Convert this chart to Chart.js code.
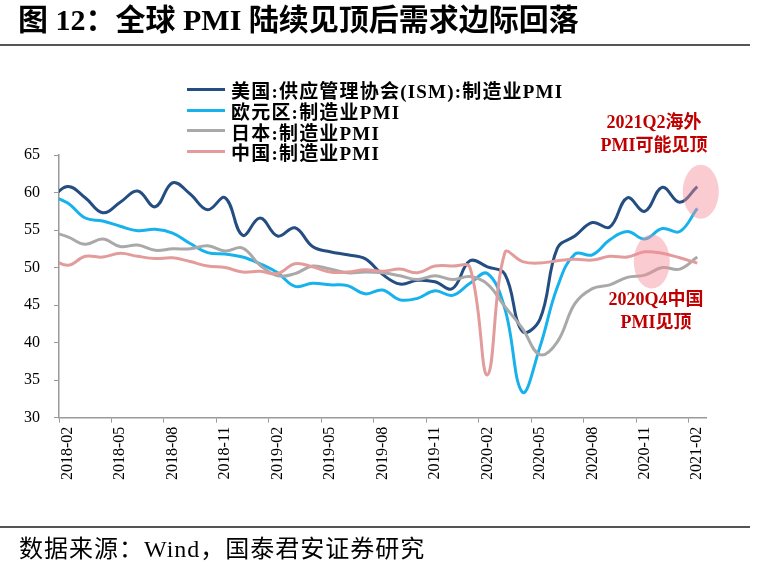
<!DOCTYPE html>
<html><head><meta charset="utf-8">
<script src="https://cdn.jsdelivr.net/npm/chart.js@4/dist/chart.umd.min.js"></script>
<style>
html,body{margin:0;padding:0;}
body{width:758px;height:572px;background:#fff;position:relative;overflow:hidden;font-family:"Liberation Serif","Noto Sans CJK SC",serif;color:#000;}
#title{position:absolute;left:18px;top:1px;font-size:30px;font-weight:bold;white-space:nowrap;line-height:38px;}
.rule{position:absolute;left:0;width:750px;background:#555;}
#src{position:absolute;left:19px;top:535px;font-size:24px;letter-spacing:1px;white-space:nowrap;line-height:28px;}
#wrap{position:absolute;left:0;top:0;width:758px;height:572px;}
#legend{position:absolute;left:187px;top:79px;font-size:19px;letter-spacing:1.2px;font-weight:bold;white-space:nowrap;}
.li{display:flex;align-items:center;height:20.8px;}
.sw{width:38px;height:3px;margin-right:6px;}
.note{position:absolute;color:#c00000;font-weight:bold;font-size:18px;text-align:center;line-height:23px;white-space:nowrap;}
</style></head>
<body>
<div id="wrap"><canvas id="c" width="758" height="572"></canvas></div>
<div id="title">图 12：全球 PMI 陆续见顶后需求边际回落</div>
<div class="rule" style="top:44px;height:2px;"></div>
<div class="rule" style="top:526px;height:2px;"></div>
<div id="src">数据来源：Wind，国泰君安证券研究</div>
<div id="legend"></div>
<div class="note" style="left:594px;top:111px;width:120px;">2021Q2海外<br>PMI可能见顶</div>
<div class="note" style="left:596px;top:288px;width:120px;">2020Q4中国<br>PMI见顶</div>
<script>
const months = ["2018-01","2018-02","2018-03","2018-04","2018-05","2018-06","2018-07","2018-08","2018-09","2018-10","2018-11","2018-12",
"2019-01","2019-02","2019-03","2019-04","2019-05","2019-06","2019-07","2019-08","2019-09","2019-10","2019-11","2019-12",
"2020-01","2020-02","2020-03","2020-04","2020-05","2020-06","2020-07","2020-08","2020-09","2020-10","2020-11","2020-12",
"2021-01","2021-02"];
const usISM = [59.1,60.8,59.3,57.3,58.7,60.2,58.1,61.3,59.8,57.7,59.3,54.3,
56.6,54.2,55.3,52.8,52.1,51.7,51.2,49.1,47.8,48.3,48.1,47.2,
50.9,50.1,49.1,41.5,43.1,52.6,54.2,56.0,55.4,59.3,57.5,60.7,
58.7,60.8];
const euroPMI = [59.6,58.6,56.6,56.2,55.5,54.9,55.1,54.6,53.2,52.0,51.8,51.4,
50.5,49.3,47.5,47.9,47.7,47.6,46.5,47.0,45.7,45.9,46.9,46.3,
47.9,49.2,44.5,33.4,39.4,47.4,51.8,51.7,53.7,54.8,53.8,55.2,
54.8,57.9];
const japanPMI = [54.8,54.1,53.1,53.8,52.8,53.0,52.3,52.5,52.5,52.9,52.2,52.6,
50.3,48.9,49.2,50.2,49.8,49.3,49.4,49.3,48.9,48.4,48.9,48.4,
48.8,47.8,44.8,41.9,38.4,40.1,45.2,47.2,47.7,48.7,49.0,50.0,
49.8,51.4];
const chinaPMI = [51.3,50.3,51.5,51.4,51.9,51.5,51.2,51.3,50.8,50.2,50.0,49.4,
49.5,49.2,50.5,50.1,49.4,49.4,49.7,49.5,49.8,49.3,50.2,50.2,
50.0,35.7,52.0,50.8,50.6,50.9,51.1,51.0,51.5,51.4,52.1,51.9,
51.3,50.6];
const seriesNames = ["美国:供应管理协会(ISM):制造业PMI","欧元区:制造业PMI","日本:制造业PMI","中国:制造业PMI"];
const seriesColors = ["#244e82","#17b2ec","#a9a9a9","#e39c9c"];
const seriesData = [usISM, euroPMI, japanPMI, chinaPMI];
const yTicks = [30,35,40,45,50,55,60,65];

// HTML legend
const lg = document.getElementById('legend');
seriesNames.forEach((n,i)=>{
  const d=document.createElement('div');d.className='li';
  d.innerHTML='<span class="sw" style="background:'+seriesColors[i]+'"></span><span>'+n+'</span>';
  lg.appendChild(d);
});

const highlight = {
  id:'highlight',
  afterDatasetsDraw(chart){
    const {ctx, scales:{x,y}} = chart;
    const spots = [{i:37.2, v:60.1},{i:34.4, v:50.8}];
    ctx.save();
    ctx.fillStyle='rgba(243,140,152,0.45)';
    spots.forEach(s=>{
      ctx.beginPath();
      ctx.ellipse(x.getPixelForValue(s.i), y.getPixelForValue(s.v), 18, 27, 0, 0, Math.PI*2);
      ctx.fill();
    });
    ctx.restore();
  }
};

const axisFont = {family:"'Liberation Serif','Noto Sans CJK SC',serif", size:16};
new Chart(document.getElementById('c'), {
  type:'line',
  data:{
    labels: months,
    datasets: seriesData.map((d,i)=>({
      label: seriesNames[i], data: d, borderColor: seriesColors[i], backgroundColor: seriesColors[i],
      borderWidth: 3, pointRadius: 0, tension: 0.4, fill:false
    })).reverse()
  },
  options:{
    responsive:false, animation:false,
    layout:{padding:{left:10,right:52,top:155,bottom:88}},
    plugins:{legend:{display:false}, tooltip:{enabled:false}},
    scales:{
      x:{
        type:'category', min:'2018-02', offset:true,
        grid:{offset:true, drawOnChartArea:false, drawTicks:true, tickLength:5,
          color: c => (c.tick && (c.tick.value-1)%3===0) ? '#9a9a9a' : 'rgba(0,0,0,0)'},
        border:{display:true,color:'#9a9a9a',width:1.5},
        ticks:{autoSkip:false, maxRotation:90, minRotation:90, color:'#000', font:axisFont, padding:4,
          callback: function(v){ return ((v-1)%3===0) ? this.getLabelForValue(v) : ''; }}
      },
      y:{
        min:30, max:65,
        afterBuildTicks: s => { s.ticks = yTicks.map(v=>({value:v})); },
        grid:{drawOnChartArea:false, drawTicks:true, tickLength:5, color:'#9a9a9a'},
        border:{display:true,color:'#9a9a9a',width:1.5},
        ticks:{color:'#000', font:axisFont, padding:14}
      }
    }
  },
  plugins:[highlight]
});
</script>
</body></html>
